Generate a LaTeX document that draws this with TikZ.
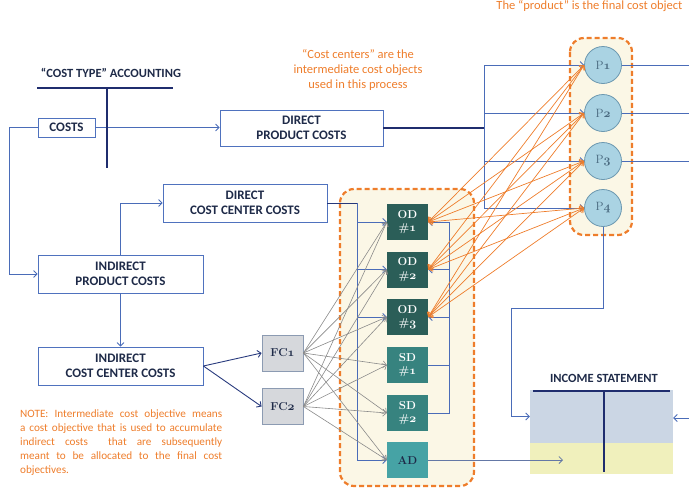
\documentclass[tikz,border=0pt]{standalone}
\usepackage{fontspec}
\setmainfont{Carlito}
\newfontfamily\serifface{Latin Modern Roman}
\usetikzlibrary{arrows.meta,calc}

\definecolor{navy}{HTML}{1F2D6E}
\definecolor{boxblue}{HTML}{4F72BE}
\definecolor{flow}{HTML}{4A6CB8}
\definecolor{labeltext}{HTML}{1E2A48}
\definecolor{accent}{HTML}{EE7D2B}
\definecolor{cream}{HTML}{FBF7E6}
\definecolor{odfill}{HTML}{2B5E58}
\definecolor{sdfill}{HTML}{37837F}
\definecolor{adfill}{HTML}{46A3A5}
\definecolor{fcfill}{HTML}{D6D8DC}
\definecolor{fcedge}{HTML}{8C9BB2}
\definecolor{pfill}{HTML}{AAD3E3}
\definecolor{pedge}{HTML}{6C98B0}
\definecolor{ptext}{HTML}{4A6A80}
\definecolor{feed}{HTML}{8A8A8A}
\definecolor{upperpart}{HTML}{CBD6E4}
\definecolor{lowerpart}{HTML}{F0F0BC}

% old-style figures taken from the math italic font
\newcommand{\osn}[1]{{\usefont{OML}{cmm}{b}{it}#1}}

\begin{document}
\begin{tikzpicture}[x=1pt,y=-1pt,
  costbox/.style={draw=boxblue, line width=0.8pt, fill=white, inner sep=0pt,
    text=labeltext, align=center, font=\fontsize{13}{15.5}\selectfont\bfseries},
  dept/.style={draw=none, inner sep=0pt, minimum width=41pt, minimum height=36pt,
    text=white, align=center, font=\serifface\fontsize{11.5}{13.5}\selectfont\bfseries},
  fcbox/.style={draw=fcedge, line width=0.8pt, fill=fcfill, inner sep=0pt,
    minimum width=41pt, minimum height=36pt, text=labeltext,
    font=\serifface\fontsize{11.5}{13}\selectfont\bfseries},
  pcirc/.style={circle, draw=pedge, line width=0.8pt, fill=pfill, inner sep=0pt,
    minimum size=37pt, text=ptext, font=\serifface\fontsize{12}{13}\selectfont},
  groupframe/.style={draw=accent, fill=cream, line width=2.2pt,
    dash pattern=on 5pt off 3pt, rounded corners=14pt},
  flowline/.style={draw=flow, line width=0.8pt},
  navyline/.style={draw=navy, line width=1.5pt},
  feedline/.style={draw=feed, line width=0.6pt},
  orangeline/.style={draw=accent, line width=0.7pt},
  arrowed/.style={arrows={-{Straight Barb[length=3.5pt,width=7pt]}}},
  bothway/.style={arrows={{Straight Barb[length=3.5pt,width=7pt]}-{Straight Barb[length=3.5pt,width=7pt]}}},
  accenttext/.style={text=accent, align=center, font=\fontsize{12.5}{15}\selectfont},
  heading/.style={text=labeltext, font=\fontsize{12.5}{15}\selectfont\bfseries}
]
\useasboundingbox (0,0) rectangle (689,488);

% group frames
\draw[groupframe] (340,189) rectangle (474,486);
\draw[groupframe] (570,38) rectangle (632,235);

% annotations
\node[accenttext, anchor=base east] (topnote) at (686,9) {The “product” is the final cost object};
\node[accenttext] (centernote) at (358,70) {“Cost centers” are the\\intermediate cost objects\\used in this process};
\node[heading] (cta) at (111,73) {“COST TYPE” ACCOUNTING};
\node[text=accent, anchor=north west, text width=202pt, align=justify,
  font=\fontsize{11.2}{14}\selectfont, inner sep=0pt] (note) at (20,410)
  {NOTE: Intermediate cost objective means\linebreak
   a cost objective that is used to accumulate\linebreak
   indirect costs\ \ that are subsequently\linebreak
   meant to be allocated to the final cost\linebreak
   objectives.};

% cost boxes
\node[costbox, minimum width=57pt, minimum height=19pt] (costs) at (66.5,127.5) {COSTS};
\node[costbox, minimum width=163pt, minimum height=36pt] (dpc) at (301.5,128) {DIRECT\\PRODUCT COSTS};
\node[costbox, minimum width=164pt, minimum height=38pt] (dccc) at (245,203) {DIRECT\\COST CENTER COSTS};
\node[costbox, minimum width=165pt, minimum height=38pt] (ipc) at (120.5,274) {INDIRECT\\PRODUCT COSTS};
\node[costbox, minimum width=165pt, minimum height=38pt] (iccc) at (120.5,366) {INDIRECT\\COST CENTER COSTS};

% cost centers
\node[dept, fill=odfill] (od1) at (407.5,222) {OD\\\#\osn{1}};
\node[dept, fill=odfill] (od2) at (407.5,269.5) {OD\\\#\osn{2}};
\node[dept, fill=odfill] (od3) at (407.5,317) {OD\\\#\osn{3}};
\node[dept, fill=sdfill] (sd1) at (407.5,365) {SD\\\#\osn{1}};
\node[dept, fill=sdfill] (sd2) at (407.5,413) {SD\\\#\osn{2}};
\node[dept, fill=adfill, text=labeltext] (ad) at (407.5,460) {AD};

\node[fcbox] (fc1) at (282.5,353) {FC\osn{1}};
\node[fcbox] (fc2) at (282.5,406.5) {FC\osn{2}};

% products
\node[pcirc] (p1) at (603,65) {P\osn{1}};
\node[pcirc] (p2) at (603,113) {P\osn{2}};
\node[pcirc] (p3) at (603,161) {P\osn{3}};
\node[pcirc] (p4) at (603,208) {P\osn{4}};

% income statement
\node[heading] (istitle) at (604,378) {INCOME STATEMENT};
\node[fill=upperpart, inner sep=0pt, minimum width=143pt, minimum height=53pt] (isup) at (601.5,416.5) {};
\node[fill=lowerpart, inner sep=0pt, minimum width=143pt, minimum height=31pt] (islow) at (601.5,458.5) {};

% helper points
\coordinate (pbus) at (484,128);
\coordinate (dbus) at (357,203);
\coordinate (ltop) at (449,222);
\coordinate (turn) at (511,308);
\coordinate (redge) at (689,0);
\coordinate (rin) at (689,418);
\coordinate (adend) at (563,460);

% cost type flows
\draw[flowline, arrowed] (costs.east) -- (costs.east -| dpc.west);
\draw[flowline, arrowed] (costs.west) -- ++(-28,0) |- (ipc.west);
\draw[flowline, arrowed] (ipc.north) |- (dccc.west);
\draw[flowline, arrowed] (ipc.south) -- (iccc.north);
\draw[flowline, draw=navy!80!boxblue, line width=0.9pt, arrowed] (iccc.east) -- (fc1.west);
\draw[flowline, draw=navy!80!boxblue, line width=0.9pt, arrowed] (iccc.east) -- (fc2.west);

% direct product costs to products
\draw[navyline] (dpc.east) -- (pbus);
\foreach \p in {p1,p2,p3,p4}
  \draw[flowline, arrowed] (pbus) |- (\p.west);

% direct cost center costs to the centers
\draw[flowline, draw=navy!85!boxblue, line width=1pt] (dccc.east) -- (dbus);
\foreach \d in {od1,od2,od3,ad}
  \draw[flowline, arrowed] (dbus) |- (\d.west);

% allocation keys from the functional centers
\foreach \f in {fc1,fc2}
  \foreach \d in {od1,od2,od3,sd1,sd2,ad}
    \draw[feedline, arrowed] (\f.east) -- (\d.west);

% service departments feeding the operating departments
\draw[flowline] (sd2.east) -| (ltop);
\draw[flowline] (sd1.east) -- (sd1.east -| ltop);
\draw[flowline, arrowed] (ltop) -- (od1.east);
\draw[flowline, arrowed] (od2.east -| ltop) -- (od2.east);
\draw[flowline, arrowed] (od3.east -| ltop) -- (od3.east);

% operating departments to products
\foreach \o in {od1,od2,od3}
  \foreach \p in {p1,p2,p3,p4}
    \draw[orangeline, bothway] (\o.east) -- (\p.west);

% products onward
\foreach \p in {p1,p2,p3}
  \draw[flowline] (\p.east) -- (\p.east -| redge);
\draw[flowline, arrowed] (p4.south) |- (turn) |- (isup.west);
\draw[flowline, arrowed] (rin) -- (isup.east |- rin);
\draw[flowline, draw=flow!60!feed, arrowed] (ad.east) -- (adend);

% T accounts
\draw[navy, line width=2pt] (37,88) -- (173,88) (107,88) -- (107,168);
\draw[navy, line width=1.6pt] (533,391) -- (670,391) (604,391) -- (604,472);
\end{tikzpicture}
\end{document}
